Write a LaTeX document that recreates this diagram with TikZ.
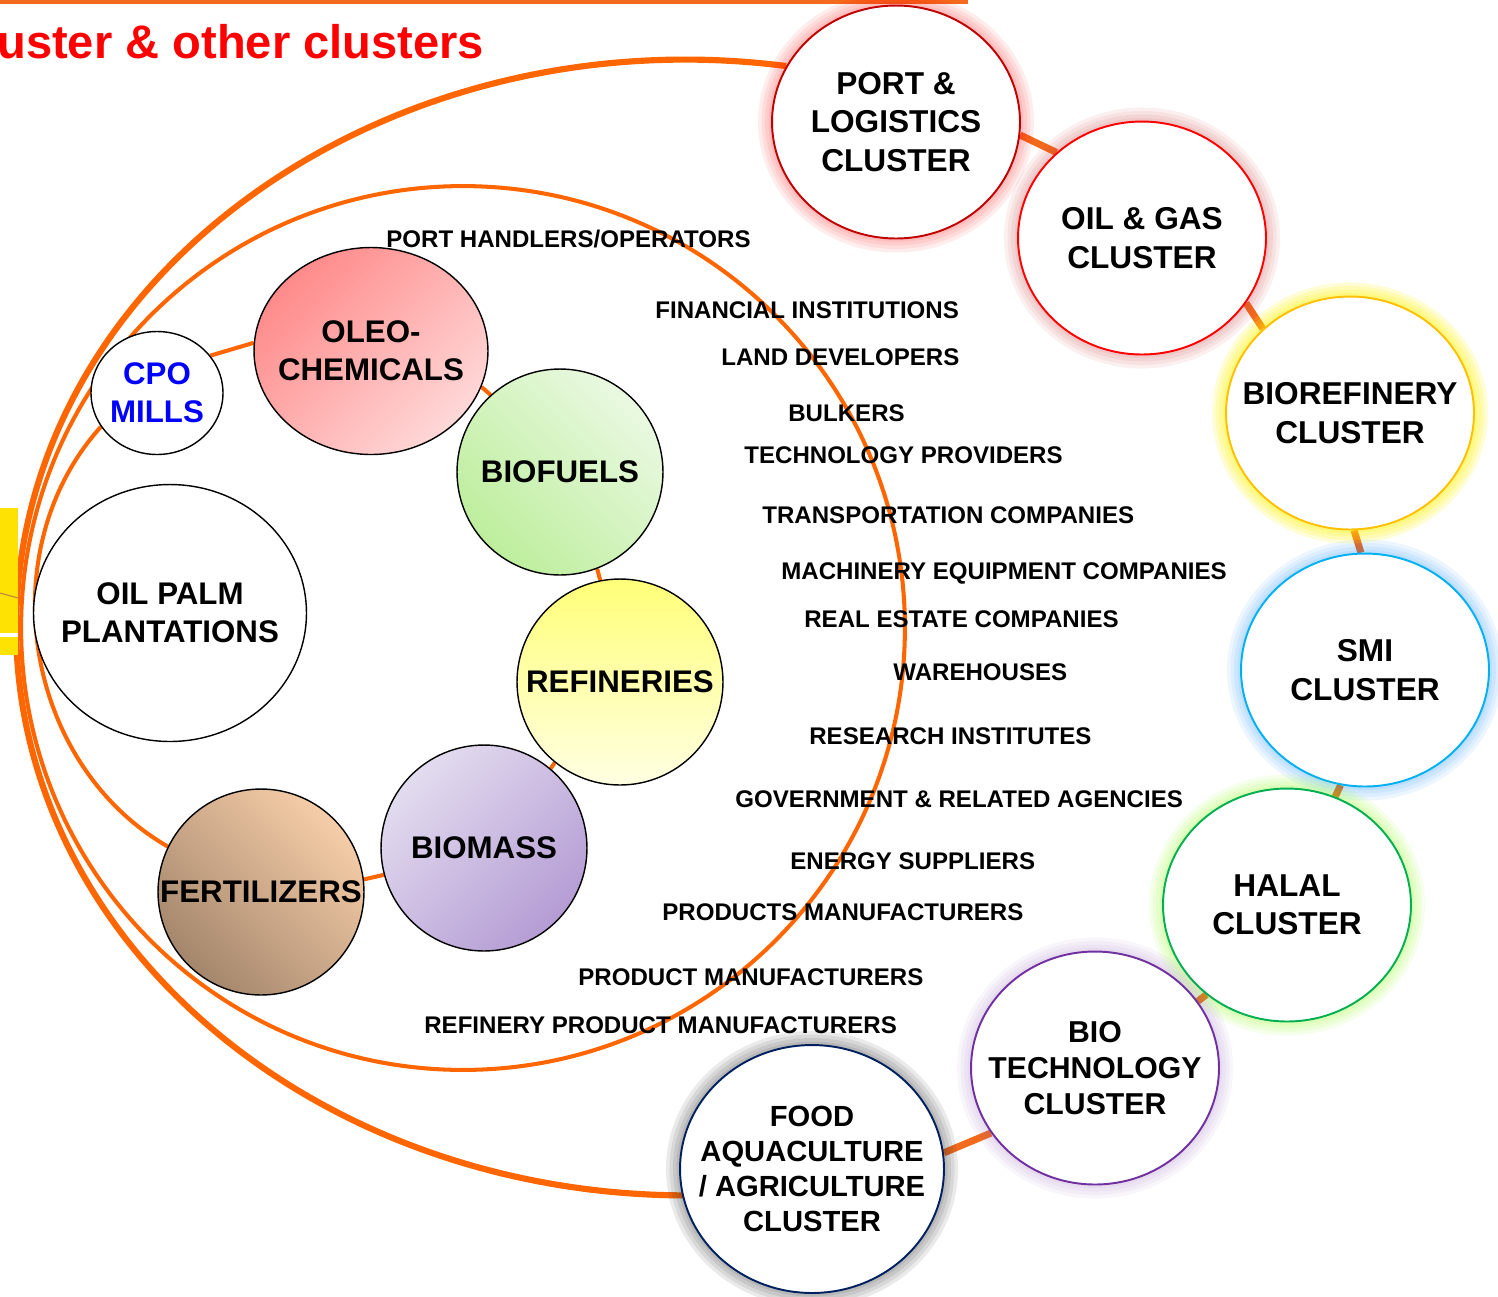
\documentclass[tikz,border=0pt]{standalone}
\usepackage{fontspec}
\setmainfont{Liberation Sans}
\usetikzlibrary{shapes.geometric,backgrounds}

\definecolor{linkorange}{HTML}{FF6600}
\definecolor{chainorange}{HTML}{F46A1C}
\definecolor{portred}{HTML}{C00000}
\definecolor{gasred}{HTML}{FF0000}
\definecolor{refgold}{HTML}{FFC000}
\definecolor{smiblue}{HTML}{00B0F0}
\definecolor{halalgreen}{HTML}{00B050}
\definecolor{biopurple}{HTML}{7030A0}
\definecolor{foodnavy}{HTML}{002060}
\definecolor{cpoblue}{HTML}{0000FF}
\definecolor{oleotop}{HTML}{FF8A8A}
\definecolor{oleobot}{HTML}{FFD8D8}
\definecolor{fueltop}{HTML}{EAF9E2}
\definecolor{fuelbot}{HTML}{BDEE9C}
\definecolor{reftop}{HTML}{FFFF78}
\definecolor{refbot}{HTML}{FFFFE2}
\definecolor{masstop}{HTML}{E3DCEF}
\definecolor{massbot}{HTML}{B49CD4}
\definecolor{ferttop}{HTML}{F6CDA8}
\definecolor{fertbot}{HTML}{A4866C}

\begin{document}
\begin{tikzpicture}[x=0.02cm,y=0.02cm,
    cluster/.style={ellipse, fill=white, line width=1.1pt, inner sep=-2cm,
        minimum width=4.96cm, minimum height=4.66cm, align=center,
        font=\fontsize{18}{21.8}\selectfont\bfseries},
    glow/.style 2 args={preaction={draw=#1, line width=16pt, opacity=#2},
        preaction={draw=#1, line width=12pt, opacity=#2},
        preaction={draw=#1, line width=8pt, opacity=#2},
        preaction={draw=#1, line width=4pt, opacity=#2}},
    unit/.style={ellipse, draw=black, line width=0.8pt, inner sep=-2cm,
        minimum width=4.12cm, minimum height=4.12cm, align=center,
        font=\fontsize{17.8}{21.8}\selectfont\bfseries},
    lbl/.style={anchor=base west, inner sep=0pt, font=\fontsize{13.7}{16}\selectfont\bfseries},
    link/.style={draw=linkorange, line width=2.3pt},
    chain/.style={draw=chainorange, line width=4pt},
  ]
    \useasboundingbox (0,0) rectangle (1498,-1296);

    % Cut-off bits of the slide
    \fill[chainorange] (0,0) rectangle (968,-4);
    \fill[yellow!85!orange] (0,-508) rectangle (18,-655);
    \draw[white, line width=2pt] (0,-635) -- (18,-635);
    \draw[brown, line width=0.6pt] (0,-593) -- (18,-598);
    \node[anchor=base west, inner sep=0pt, text=red, font=\fontsize{26.8}{30}\selectfont\bfseries]
        (title) at (-3,-58) {uster \& other clusters};

    % Outer clusters
    \node[cluster, draw=portred, glow={red}{0.07}] (port) at (896,-122) {PORT \&\\LOGISTICS\\CLUSTER};
    \node[cluster, draw=gasred, glow={red!55!gray}{0.08}] (oilgas) at (1142,-238) {OIL \& GAS\\CLUSTER};
    \node[cluster, draw=refgold, glow={yellow}{0.16}] (bioref) at (1350,-413) {BIOREFINERY\\CLUSTER};
    \node[cluster, draw=smiblue, glow={blue!50!cyan}{0.07}] (smi) at (1365,-670) {SMI\\CLUSTER};
    \node[cluster, draw=halalgreen, glow={green!50!yellow}{0.08}] (halal) at (1287,-905) {HALAL\\CLUSTER};
    \node[cluster, draw=biopurple, glow={biopurple!80}{0.06},
        font=\fontsize{17.2}{20.5}\selectfont\bfseries] (biotech) at (1095,-1068) {BIO\\TECHNOLOGY\\CLUSTER};
    \node[cluster, draw=foodnavy, glow={black!80}{0.1}, minimum width=5.28cm, minimum height=4.96cm,
        font=\fontsize{16.6}{20}\selectfont\bfseries] (food) at (812,-1169)
        {FOOD\\AQUACULTURE\\/ AGRICULTURE\\CLUSTER};

    % Palm oil units
    \node[unit, fill=white, minimum width=2.64cm, minimum height=2.46cm, text=cpoblue] (cpo) at (157,-393) {CPO\\MILLS};
    \node[unit, top color=oleotop, bottom color=oleobot, shading angle=45,
        minimum width=4.68cm, minimum height=4.14cm] (oleo) at (371,-351) {OLEO-\\CHEMICALS};
    \node[unit, top color=fueltop, bottom color=fuelbot, shading angle=-45] (biofuels) at (560,-472) {BIOFUELS};
    \node[unit, top color=reftop, bottom color=refbot] (refineries) at (620,-682) {REFINERIES};
    \node[unit, top color=masstop, bottom color=massbot, shading angle=45] (biomass) at (484,-848) {BIOMASS};
    \node[unit, top color=ferttop, bottom color=fertbot, shading angle=-45] (fert) at (261,-892) {FERTILIZERS};
    \node[unit, fill=white, minimum width=5.46cm, minimum height=5.14cm] (palm) at (170,-613) {OIL PALM\\PLANTATIONS};

    % Players around the ring
    \node[lbl] (handlers) at (386,-247) {PORT HANDLERS/OPERATORS};
    \node[lbl] (finance) at (655,-318) {FINANCIAL INSTITUTIONS};
    \node[lbl] (land) at (721,-365) {LAND DEVELOPERS};
    \node[lbl] (bulkers) at (788,-421) {BULKERS};
    \node[lbl] (techprov) at (744,-463) {TECHNOLOGY PROVIDERS};
    \node[lbl] (transport) at (762,-523) {TRANSPORTATION COMPANIES};
    \node[lbl] (machinery) at (781,-579) {MACHINERY EQUIPMENT COMPANIES};
    \node[lbl] (estate) at (804,-627) {REAL ESTATE COMPANIES};
    \node[lbl] (warehouses) at (893,-680) {WAREHOUSES};
    \node[lbl] (research) at (809,-744) {RESEARCH INSTITUTES};
    \node[lbl] (govt) at (735,-807) {GOVERNMENT \& RELATED AGENCIES};
    \node[lbl] (energy) at (790,-869) {ENERGY SUPPLIERS};
    \node[lbl] (products) at (662,-920) {PRODUCTS MANUFACTURERS};
    \node[lbl] (product) at (578,-985) {PRODUCT MANUFACTURERS};
    \node[lbl] (refprod) at (424,-1033) {REFINERY PRODUCT MANUFACTURERS};

    \begin{pgfonlayer}{background}
        % Ring and outer arc
        \draw[link] (463,-628) circle[radius=8.84cm];
        \draw[linkorange, line width=3.5pt] (port.153) arc[start angle=81.4, end angle=270.5,
            x radius=13.4cm, y radius=11.36cm];

        % Links between the units
        \draw[link] (cpo.35) -- (oleo.176);
        \draw[link] (oleo.342) -- (biofuels.132);
        \draw[link] (biofuels.291) -- (refineries.101);
        \draw[link] (refineries.231) -- (biomass.50);
        \draw[link] (biomass.195) -- (fert.7);
        \draw[link] (cpo.211) to[out=228, in=150] (fert.154);

        % Links between the clusters
        \draw[chain] (port.354) -- (oilgas.135);
        \draw[chain] (oilgas.328) -- (bioref.136);
        \draw[chain] (bioref.272) -- (smi.92);
        \draw[chain] (smi.258) -- (halal.66);
        \draw[chain] (halal.228) -- (biotech.33);
        \draw[chain] (biotech.212) -- (food.7);
    \end{pgfonlayer}
\end{tikzpicture}
\end{document}
